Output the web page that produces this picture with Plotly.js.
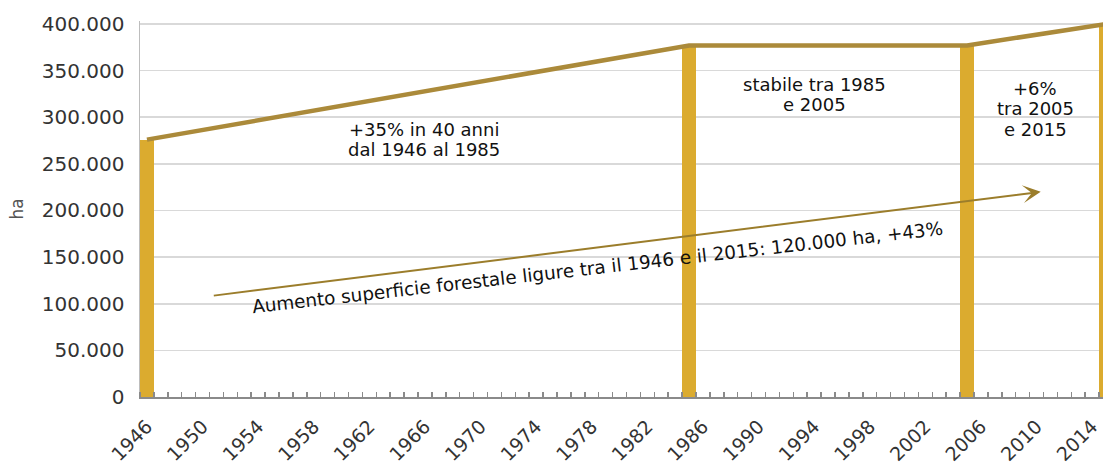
<!DOCTYPE html>
<html>
<head>
<meta charset="utf-8">
<script src="https://cdn.plot.ly/plotly-3.0.1.min.js"></script>
<style>
  html, body { margin: 0; padding: 0; background: #ffffff; }
  #chart { width: 1103px; height: 464px; }
</style>
</head>
<body>
<div id="chart"></div>
<script>
// ---- data ----
const anni = [1946, 1985, 2005, 2015];
const superficie = [276000, 377000, 377000, 400000];   // ha
const tickAnni = [1946, 1950, 1954, 1958, 1962, 1966, 1970, 1974, 1978, 1982, 1986, 1990, 1994, 1998, 2002, 2006, 2010, 2014];
const tickHa = [0, 50000, 100000, 150000, 200000, 250000, 300000, 350000, 400000];
const titoloY = "ha";
const testoPeriodo1 = ["+35% in 40 anni", "dal 1946 al 1985"];
const testoPeriodo2 = ["stabile tra 1985", "e 2005"];
const testoPeriodo3 = ["+6%", "tra 2005", "e 2015"];
const testoFreccia = "Aumento superficie forestale ligure tra il 1946 e il 2015: 120.000 ha, +43%";

const FONT = "DejaVu Sans, Liberation Sans, Arial, sans-serif";
const BAR_COLOR = "#dbab2f";
const LINE_COLOR = "#ab8a3a";
const ARROW_COLOR = "#9b7d2b";

const traces = [
  {
    type: "bar",
    x: anni,
    y: superficie,
    width: 0.95,
    marker: { color: BAR_COLOR, line: { width: 0 } },
    hoverinfo: "x+y",
    showlegend: false
  },
  {
    type: "scatter",
    mode: "lines",
    x: anni,
    y: superficie,
    line: { color: LINE_COLOR, width: 4.5 },
    hoverinfo: "x+y",
    showlegend: false
  }
];

function lineAnn(text, x, y) {
  return {
    xref: "x", yref: "y", x: x, y: y, text: text, showarrow: false,
    xanchor: "center", yanchor: "middle",
    font: { family: FONT, size: 18, color: "#111111" }
  };
}

const annotations = [
  lineAnn(testoPeriodo1[0], 1965.95, 286500),
  lineAnn(testoPeriodo1[1], 1965.95, 265000),
  lineAnn(testoPeriodo2[0], 1994.05, 335500),
  lineAnn(testoPeriodo2[1], 1994.05, 314000),
  lineAnn(testoPeriodo3[0], 2009.9, 331000),
  lineAnn(testoPeriodo3[1], 2009.9, 309000),
  lineAnn(testoPeriodo3[2], 2009.9, 286500),
  {
    xref: "x", yref: "y", axref: "x", ayref: "y",
    x: 2010.3, y: 220000, ax: 1950.7, ay: 108500,
    text: "", showarrow: true, arrowhead: 3, arrowsize: 1.5,
    arrowwidth: 2, arrowcolor: ARROW_COLOR, standoff: 0, startstandoff: 0
  },
  {
    xref: "x", yref: "y", x: 1978.4, y: 139000,
    text: testoFreccia, showarrow: false, textangle: -6.5,
    xanchor: "center", yanchor: "middle",
    font: { family: FONT, size: 18.4, color: "#111111" }
  }
];

const layout = {
  width: 1103,
  height: 464,
  margin: { l: 140, r: 0, t: 21, b: 67 },
  paper_bgcolor: "#ffffff",
  plot_bgcolor: "#ffffff",
  separators: ",.",
  showlegend: false,
  bargap: 0,
  font: { family: FONT, color: "#3c3c3c" },
  xaxis: {
    type: "linear",
    range: [1945.5, 2014.78],
    tickmode: "array",
    tickvals: tickAnni,
    ticktext: tickAnni.map(String),
    tickangle: -45,
    ticks: "",
    ticklabelstandoff: 9,
    tickfont: { family: FONT, size: 19, color: "#333333" },
    showgrid: false,
    zeroline: false,
    showline: true,
    linecolor: "#8a8a8a",
    linewidth: 2,
    automargin: false,
    minor: { tick0: 1945.5, dtick: 1, ticks: "inside", ticklen: 5, tickwidth: 1.5, tickcolor: "#8a8a8a", showgrid: false }
  },
  yaxis: {
    range: [0, 403200],
    tickmode: "array",
    tickvals: tickHa,
    tickformat: ",d",
    ticks: "",
    ticklabelstandoff: 10,
    tickfont: { family: FONT, size: 20, color: "#333333" },
    showgrid: true,
    gridcolor: "#d9d9d9",
    gridwidth: 1.6,
    zeroline: false,
    showline: true,
    linecolor: "#bdbdbd",
    linewidth: 1.5,
    automargin: false,
    title: { text: titoloY, standoff: 14, font: { family: FONT, size: 17, color: "#555555" } }
  },
  annotations: annotations
};

Plotly.newPlot("chart", traces, layout, { displayModeBar: false, staticPlot: true });
</script>
</body>
</html>
